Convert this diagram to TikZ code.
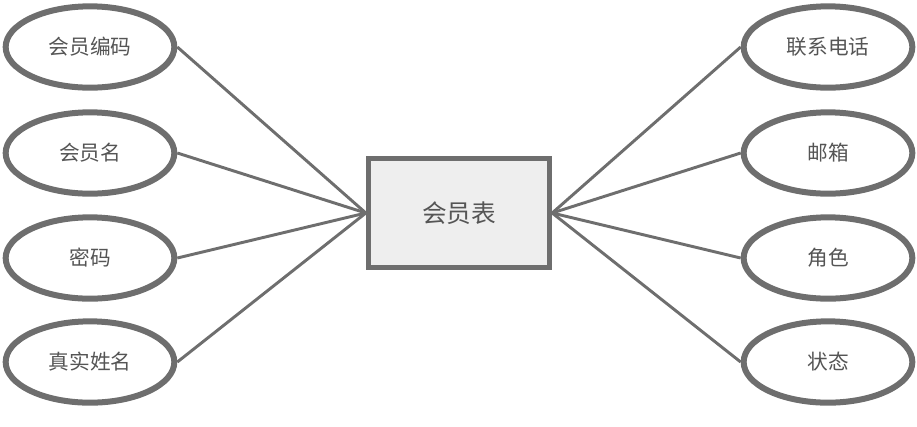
\documentclass[tikz,border=0pt]{standalone}
\usepackage{fontspec}
\setmainfont{Noto Sans CJK SC}
\usetikzlibrary{shapes.geometric}
\definecolor{edge}{HTML}{6E6E6E}
\definecolor{txt}{HTML}{555555}
\definecolor{boxfill}{HTML}{EEEEEE}
\begin{document}
\begin{tikzpicture}[x=0.75pt,y=-0.75pt,
  attr/.style={ellipse,draw=edge,line width=4.5pt,fill=white,minimum width=126.5pt,minimum height=61pt,inner sep=0pt,text=txt,font=\fontsize{15.5}{17}\selectfont},
  ent/.style={rectangle,draw=edge,line width=3.75pt,fill=boxfill,minimum width=136pt,minimum height=82pt,inner sep=0pt,text=txt,font=\fontsize{18.5}{20}\selectfont},
  conn/.style={draw=edge,line width=2.2pt}]
\useasboundingbox (0,0) rectangle (917,426);
\node[ent] (m) at (459,213) {会员表};
\node[attr] (a1) at (90,47) {会员编码};
\node[attr] (a2) at (90,153) {会员名};
\node[attr] (a3) at (90,258) {密码};
\node[attr] (a4) at (90,362) {真实姓名};
\node[attr] (b1) at (828,47) {联系电话};
\node[attr] (b2) at (828,153) {邮箱};
\node[attr] (b3) at (828,258) {角色};
\node[attr] (b4) at (828,362) {状态};
\foreach \n in {a1,a2,a3,a4} \draw[conn] (\n.east) -- (m.west);
\foreach \n in {b1,b2,b3,b4} \draw[conn] (\n.west) -- (m.east);
\end{tikzpicture}
\end{document}
